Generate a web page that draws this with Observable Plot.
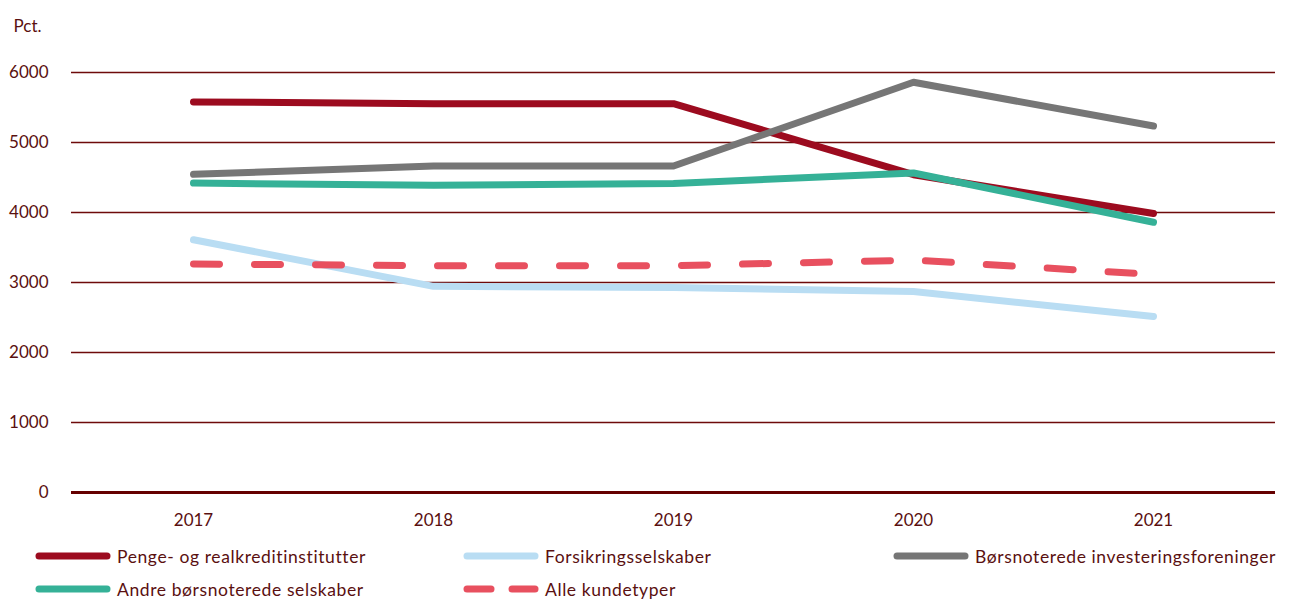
<!DOCTYPE html>
<html><head><meta charset="utf-8">
<script src="https://cdn.jsdelivr.net/npm/d3@7"></script>
<script src="https://cdn.jsdelivr.net/npm/@observablehq/plot@0.6"></script>
<style>
body{margin:0;background:#fff;font-family:Lato,"Open Sans",sans-serif;color:#5a1010}
#wrap{position:relative;width:1291px;height:599px;overflow:hidden}
#chart{position:absolute;left:0;top:0}
.leg{position:absolute;display:flex;align-items:center;font-size:17.5px;color:#5a1010;white-space:nowrap;letter-spacing:0.6px}
.leg svg{margin-right:6px}
</style></head><body><div id="wrap"><div id="chart"></div></div>
<script>
const years = ["2017", "2018", "2019", "2020", "2021"];
const penge = [5580, 5555, 5555, 4540, 3985];
const forsikring = [3610, 2945, 2930, 2870, 2515];
const investering = [4545, 4665, 4665, 5860, 5235];
const andre = [4420, 4390, 4415, 4565, 3860];
const alle = [3265, 3240, 3240, 3320, 3115];
const seriesNames = ["Penge- og realkreditinstitutter", "Forsikringsselskaber", "Børsnoterede investeringsforeninger", "Andre børsnoterede selskaber", "Alle kundetyper"];
const seriesColors = ["#9c0b1f", "#b9ddf3", "#767676", "#35b197", "#e8505f"];
const seriesDashed = [false, false, false, false, true];
const yTicks = [0, 1000, 2000, 3000, 4000, 5000, 6000];
const yUnit = "Pct.";

const allValues = [penge, forsikring, investering, andre, alle];
const series = seriesNames.map((name, i) => ({
  name, color: seriesColors[i], dashed: seriesDashed[i],
  data: years.map((y, j) => ({year: y, value: allValues[i][j]}))
}));

const textColor = "#5a1010";
const gridColor = "#6e0a0a";

const chart = Plot.plot({
  width: 1291, height: 535,
  marginLeft: 71, marginRight: 16, marginTop: 72, marginBottom: 43,
  style: {fontSize: "17px", fontFamily: "Lato, 'Open Sans', sans-serif", color: textColor, background: "#fff"},
  x: {type: "point", domain: years, padding: 0.5, label: null},
  y: {domain: [0, 6000], label: null},
  marks: [
    Plot.ruleY(yTicks.filter(d => d > 0), {stroke: gridColor, strokeWidth: 1.5}),
    Plot.ruleY([0], {stroke: "#650000", strokeWidth: 3}),
    Plot.axisX({tickSize: 0, tickPadding: 21, fill: textColor, fontSize: 17}),
    Plot.axisY({ticks: yTicks, tickSize: 0, tickPadding: 23, fill: textColor, fontSize: 17, tickFormat: d => String(d)}),
    ...series.map(s => Plot.line(s.data, {
      x: "year", y: "value", stroke: s.color, strokeWidth: 7,
      strokeLinecap: "round", strokeLinejoin: "round",
      strokeDasharray: s.dashed ? "26,35" : null
    })),
    Plot.text([yUnit], {frameAnchor: "top-left", dx: -58, dy: -53, textAnchor: "start", fill: textColor, fontSize: 17})
  ]
});
document.getElementById("chart").appendChild(chart);

// Legend
const legPos = [[35, 556], [463, 556], [893, 556], [35, 589], [463, 589]];
const wrap = document.getElementById("wrap");
series.forEach((s, i) => {
  const d = document.createElement("div");
  d.className = "leg";
  d.style.left = legPos[i][0] + "px";
  d.style.top = (legPos[i][1] - 12) + "px";
  d.style.height = "24px";
  let sw;
  if (s.dashed) {
    sw = `<svg width="76" height="10"><line x1="4" y1="5" x2="28" y2="5" stroke="${s.color}" stroke-width="7" stroke-linecap="round"/><line x1="49" y1="5" x2="72" y2="5" stroke="${s.color}" stroke-width="7" stroke-linecap="round"/></svg>`;
  } else {
    sw = `<svg width="76" height="10"><line x1="4" y1="5" x2="72" y2="5" stroke="${s.color}" stroke-width="7" stroke-linecap="round"/></svg>`;
  }
  d.innerHTML = sw + `<span>${s.name}</span>`;
  wrap.appendChild(d);
});
</script></body></html>
